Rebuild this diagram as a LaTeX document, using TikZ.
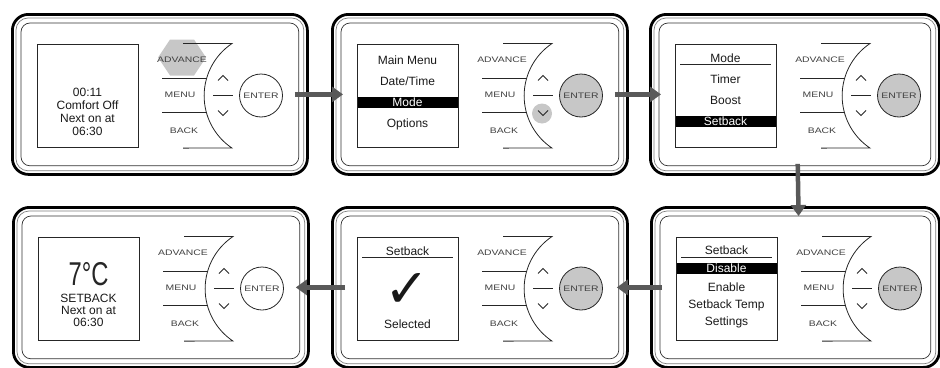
\documentclass[tikz,border=0pt]{standalone}
\usepackage{fontspec}
\setmainfont{Liberation Sans}
\newfontfamily\keyfont{Liberation Sans}[FakeStretch=1.3]
\newfontfamily\segfont{Liberation Sans}[FakeStretch=0.72]
\newfontfamily\tickfont{DejaVu Sans}
\usetikzlibrary{arrows.meta,backgrounds}

\begin{document}
\begin{tikzpicture}[
  x = 1pt, y = -1pt,
  every node/.style = {inner sep=0pt},
  frame/.style    = {draw, line width=2.8pt, rounded corners=16pt, minimum height=160, anchor=north west},
  trim/.style     = {draw=black!50, line width=0.7pt},
  screen/.style   = {draw=black!85, line width=1pt, minimum width=101, minimum height=103, anchor=north west},
  keyline/.style  = {draw=black!85, line width=0.8pt},
  key/.style      = {font=\keyfont\fontsize{8}{8}\selectfont, text=black!75},
  enterkey/.style = {key, circle, draw=black!85, line width=0.8pt, minimum size=43},
  lcd/.style      = {font=\fontsize{12}{13}\selectfont, text=black!90, text height=8.6pt, text depth=0pt},
  bar/.style      = {lcd, fill=black, text=white, minimum width=100, minimum height=11},
  rule/.style     = {draw=black!85, line width=0.8pt},
  flow/.style     = {draw=black!65, line width=4.5pt, -{Triangle[length=11pt, width=15pt]}},
  hilite/.style   = {fill=black!22},
]
\useasboundingbox (0,0) rectangle (940,367);

% panels with screen and keys
\foreach \p/\fx/\fy/\w/\ef in {1/11/13/295/white, 2/331/13/295/black!22, 3/649/13/289/black!22,
                               4/12/206/295/white, 5/331/206/295/black!22, 6/650/206/288/black!22} {
  \node[frame, minimum width=\w] (p\p) at (\fx,\fy) {};
  \draw[trim, rounded corners=12pt] ([shift={(5,5)}]p\p.north west) rectangle ([shift={(-5,-5)}]p\p.south east);
  \draw[trim, draw=black!80, rounded corners=9pt] ([shift={(10,10)}]p\p.north west) rectangle ([shift={(-10,-10)}]p\p.south east);
  \node[screen] (s\p) at ({\fx+26},{\fy+30.5}) {};
  \begin{scope}[shift={(s\p.north west)}]
    \draw[keyline] (146,0) -- (195,0) arc[start angle=236.1, end angle=123.9, radius=63] -- (146,104.6);
    \draw[keyline] (125,35) -- (169.5,35);
    \draw[keyline] (125,69) -- (169.4,69);
    \draw[keyline] (176,52) -- (196,52);
    \draw[keyline] (181,37) -- (186,32) -- (191,37);
    \draw[keyline] (181,67) -- (186,72) -- (191,67);
    \node[key] (adv\p)  at (145,16) {ADVANCE};
    \node[key] (menu\p) at (143,51) {MENU};
    \node[key] (back\p) at (147,87) {BACK};
    \node[enterkey, fill=\ef] (enter\p) at (224,52) {ENTER};
  \end{scope}
}

% pressed keys
\begin{scope}[on background layer, shift={(s1.north west)}]
  \fill[hilite] (121,14) -- (133,-4) -- (157,-4) -- (169,14) -- (157,32) -- (133,32) -- cycle;
\end{scope}
\begin{scope}[on background layer, shift={(s2.north west)}]
  \fill[hilite] (185,70) circle[radius=10];
\end{scope}

% screen 1
\begin{scope}[shift={(s1.north west)}]
  \node[lcd] (clock1) at (50.5,49) {00:11};
  \node[lcd] (state1) at (50.5,62) {Comfort Off};
  \node[lcd] (next1)  at (50.5,75) {Next on at};
  \node[lcd] (time1)  at (50.5,88) {06:30};
\end{scope}
% screen 2
\begin{scope}[shift={(s2.north west)}]
  \node[lcd] (title2) at (50.5,17) {Main Menu};
  \node[lcd] (date2)  at (50.5,38) {Date/Time};
  \node[bar] (mode2)  at (50.5,59) {Mode};
  \node[lcd] (opt2)   at (50.5,80) {Options};
\end{scope}
% screen 3
\begin{scope}[shift={(s3.north west)}]
  \node[lcd] (title3) at (50.5,15) {Mode};
  \draw[rule] (5,21) -- (96,21);
  \node[lcd] (timer3) at (50.5,36) {Timer};
  \node[lcd] (boost3) at (50.5,57) {Boost};
  \node[bar] (set3)   at (50.5,78) {Setback};
\end{scope}
% screen 6
\begin{scope}[shift={(s6.north west)}]
  \node[lcd] (title6) at (50.5,14) {Setback};
  \draw[rule] (5,21) -- (96,21);
  \node[bar] (dis6)   at (50.5,32) {Disable};
  \node[lcd] (en6)    at (50.5,51) {Enable};
  \node[lcd] (temp6)  at (50.5,68) {Setback Temp};
  \node[lcd] (sett6)  at (50.5,85) {Settings};
\end{scope}
% screen 5
\begin{scope}[shift={(s5.north west)}]
  \node[lcd] (title5) at (50.5,15) {Setback};
  \draw[rule] (5,21) -- (96,21);
  \node[font=\tickfont\fontsize{54}{54}\selectfont, text=black!90] (tick5) at (50.5,54) {✓};
  \node[lcd] (sel5)   at (50.5,88) {Selected};
\end{scope}
% screen 4
\begin{scope}[shift={(s4.north west)}]
  \node[font=\segfont\fontsize{33}{33}\selectfont, text=black!85] (temp4) at (50.5,38) {7°C};
  \node[lcd] (state4) at (50.5,62) {SETBACK};
  \node[lcd] (next4)  at (50.5,74) {Next on at};
  \node[lcd] (time4)  at (50.5,86) {06:30};
\end{scope}

% steps
\draw[flow, shorten <=-14pt, shorten >=-12pt] (p1.east) -- (p2.west);
\draw[flow, shorten <=-14pt, shorten >=-12pt] (p2.east) -- (p3.west);
\draw[flow, shorten <=-12pt, shorten >=-10pt] ([xshift=3pt]p3.south) -- ([xshift=3pt]p6.north);
\draw[flow, shorten <=-12pt, shorten >=-12pt] (p6.west) -- (p5.east);
\draw[flow, shorten <=-14pt, shorten >=-14pt] (p5.west) -- (p4.east);

\end{tikzpicture}
\end{document}
